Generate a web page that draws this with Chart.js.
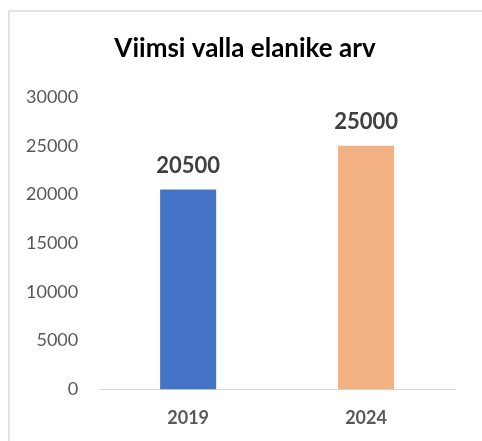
<!DOCTYPE html>
<html>
<head>
<meta charset="utf-8">
<script src="https://cdn.jsdelivr.net/npm/chart.js@4/dist/chart.umd.min.js"></script>
<style>
    html, body { margin: 0; padding: 0; background: #fff; }
    #wrap { position: relative; width: 482px; height: 441px; }
    #frame {
        position: absolute; left: 8px; top: 10px; right: 0; bottom: 0;
        border-left: 2px solid #e3e3e3; border-top: 2px solid #e3e3e3;
    }
    #populationChart { position: absolute; left: 0; top: 0; }
</style>
</head>
<body>
<div id="wrap">
    <div id="frame"></div>
    <canvas id="populationChart" width="482" height="441"></canvas>
</div>
<script>
const years = ["2019", "2024"];
const residents = [20500, 25000];
const barColors = ["#4472C4", "#F4B183"];
const yTicks = [0, 5000, 10000, 15000, 20000, 25000, 30000];
const chartTitle = "Viimsi valla elanike arv";

const fontFamily = "Lato, 'Open Sans', sans-serif";

// title centred on the frame, value labels above the bars
const chartText = {
    id: "chartText",
    afterDatasetsDraw: function (chart) {
        const ctx = chart.ctx;
        const meta = chart.getDatasetMeta(0);
        ctx.save();
        ctx.textAlign = "center";
        ctx.textBaseline = "alphabetic";

        ctx.font = "bold 26px " + fontFamily;
        ctx.fillStyle = "#000000";
        ctx.fillText(chartTitle, (8 + chart.width) / 2, 57);

        ctx.font = "bold 22px " + fontFamily;
        ctx.fillStyle = "#404040";
        meta.data.forEach(function (bar, i) {
            ctx.fillText(String(residents[i]), bar.x, bar.y - 17);
        });
        ctx.restore();
    },
};

new Chart(document.getElementById("populationChart"), {
    type: "bar",
    data: {
        labels: years,
        datasets: [
            {
                data: residents,
                backgroundColor: barColors,
                borderWidth: 0,
                categoryPercentage: 1,
                barPercentage: 0.315,
            },
        ],
    },
    options: {
        responsive: false,
        animation: false,
        layout: {
            padding: { left: 5, right: 27, top: 97, bottom: -6 },
        },
        plugins: {
            legend: { display: false },
            tooltip: { enabled: false },
            title: { display: false },
        },
        scales: {
            x: {
                grid: { display: false, drawTicks: false },
                border: { display: true, color: "#d9d9d9", width: 1 },
                ticks: {
                    color: "#595959",
                    padding: 18,
                    font: { family: fontFamily, size: 18, weight: "bold" },
                },
            },
            y: {
                min: 0,
                max: 30000,
                afterBuildTicks: function (axis) {
                    axis.ticks = yTicks.map(function (v) { return { value: v }; });
                },
                grid: { display: false, drawTicks: false },
                border: { display: false },
                ticks: {
                    color: "#595959",
                    padding: 21,
                    font: { family: fontFamily, size: 18 },
                    callback: function (v) { return String(v); },
                },
            },
        },
    },
    plugins: [chartText],
});
</script>
</body>
</html>
